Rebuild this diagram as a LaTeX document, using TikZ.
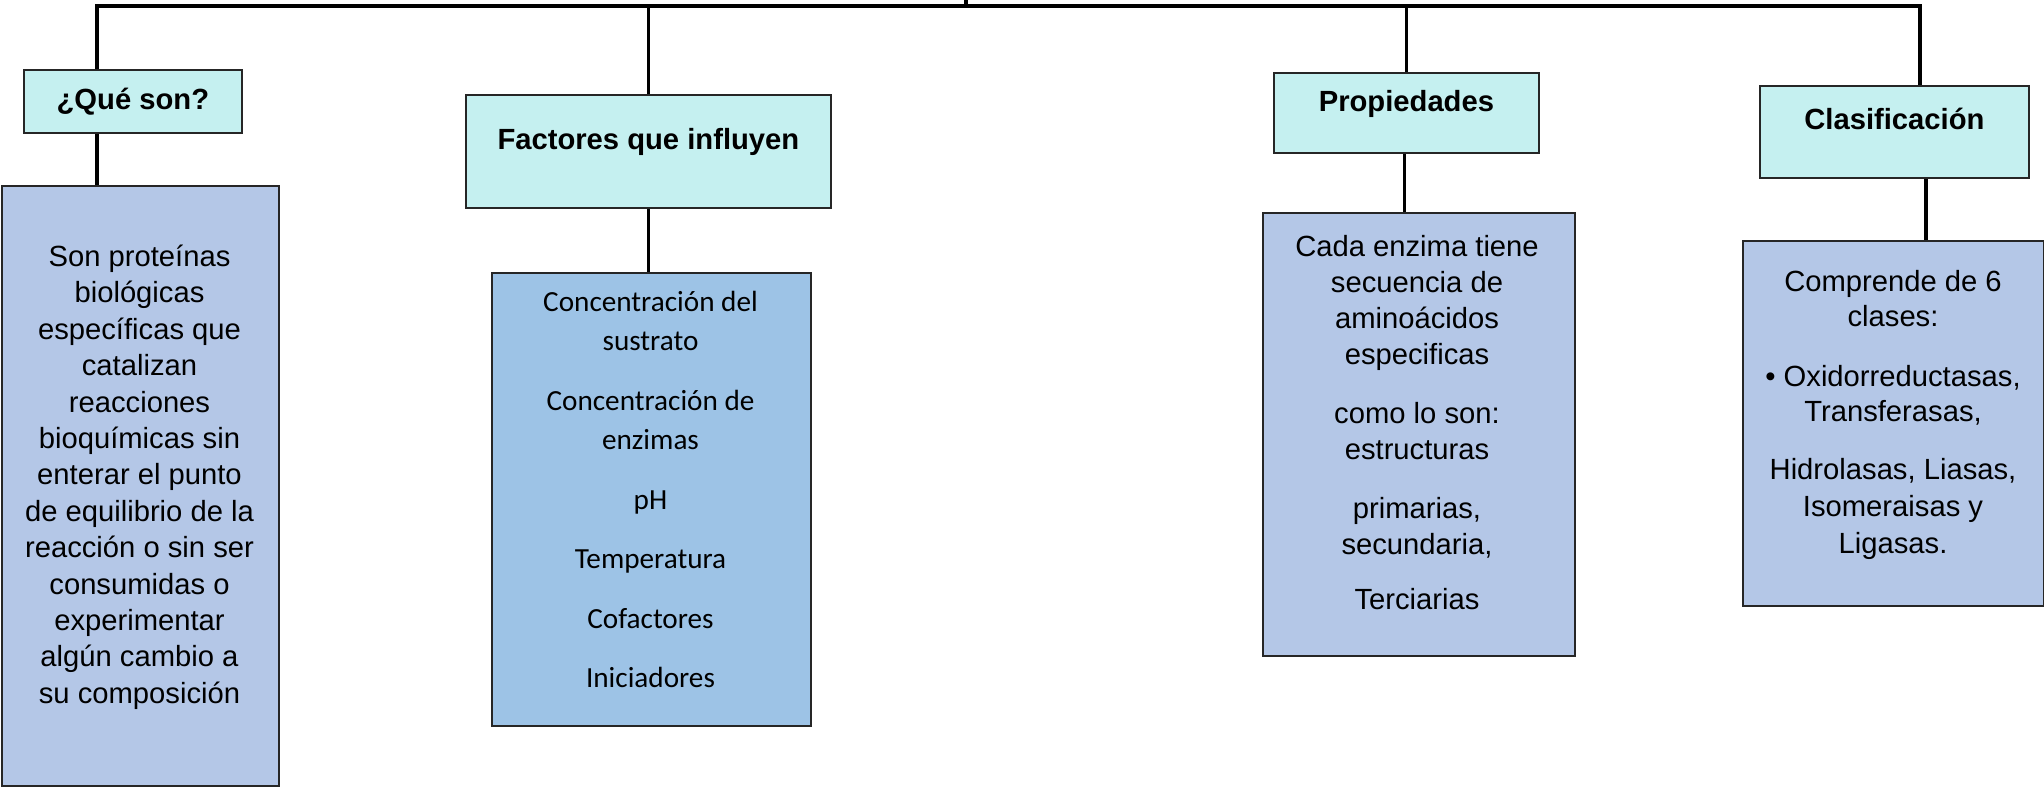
\documentclass[tikz,border=0pt]{standalone}
\usepackage{fontspec}
\setmainfont{Liberation Sans}
\newfontfamily\calibri{Carlito}
\usetikzlibrary{positioning, calc}
\definecolor{headcyan}{RGB}{197,240,240}
\definecolor{bodyblue}{RGB}{180,199,231}
\definecolor{factblue}{RGB}{157,195,230}

\begin{document}
\begin{tikzpicture}[
    x=0.5pt, y=-0.5pt,
    head/.style={draw=black!85, line width=0.9pt, fill=headcyan, inner sep=0pt, anchor=north west},
    body/.style={draw=black!85, line width=0.9pt, fill=bodyblue, inner sep=0pt, anchor=north west},
    link/.style={line width=1.8pt, black},
    headtxt/.style={font=\fontsize{14.6}{17}\selectfont\bfseries, anchor=base, inner sep=0pt},
    txt/.style={font=\fontsize{14.6}{17}\selectfont, anchor=base, inner sep=0pt},
    ftxt/.style={txt, font=\calibri\fontsize{14.6}{17}\selectfont}
]
\useasboundingbox (0,0) rectangle (2044,788);

% Headings
\node[head, minimum width=109pt, minimum height=31.5pt] (que) at (23,69) {};
\node[headtxt] (quelbl) at (que.center |- 0,109) {¿Qué son?};
\node[head, minimum width=182.5pt, minimum height=56.5pt] (fact) at (465,94) {};
\node[headtxt] (factlbl) at (fact.center |- 0,149) {Factores que influyen};
\node[head, minimum width=132.5pt, minimum height=40pt] (prop) at (1273,72) {};
\node[headtxt] (proplbl) at (prop.center |- 0,111) {Propiedades};
\node[head, minimum width=134.5pt, minimum height=46pt] (clas) at (1759,85) {};
\node[headtxt] (claslbl) at (clas.center |- 0,129) {Clasificación};

% Body boxes
\node[body, minimum width=138.5pt, minimum height=300pt] (quebody) at (1,185) {};
\node[body, fill=factblue, minimum width=159.5pt, minimum height=226.5pt] (factbody) at (491,272) {};
\node[body, minimum width=156pt, minimum height=221.5pt] (propbody) at (1262,212) {};
\node[body, minimum width=150.5pt, minimum height=182.5pt] (clasbody) at (1742,240) {};

% Top bar and connectors
\coordinate (barL) at (97,6);
\coordinate (barR) at (1920,6);
\coordinate (root) at (966,0);
\draw[link] (barL |- que.north) -- (barL) -- (barR) -- (barR |- clas.north);
\draw[link] (root) -- (root |- barL);
\draw[link] (fact.north) -- (fact.north |- barL);
\draw[link] (prop.north) -- (prop.north |- barL);
\draw[link] (barL |- que.south) -- (barL |- quebody.north);
\draw[link] (fact.south) -- (fact.south |- factbody.north);
\draw[link] ([xshift=-1pt]prop.south) -- ([xshift=-1pt]prop.south |- propbody.north);
\draw[link] ([xshift=15.75pt]clas.south) -- ([xshift=15.75pt]clas.south |- clasbody.north);

% Texts of the bodies
\foreach \t [count=\i from 0] in {Son proteínas, biológicas, específicas que, catalizan, reacciones, bioquímicas sin, enterar el punto, de equilibrio de la, reacción o sin ser, consumidas o, experimentar, algún cambio a, su composición}
    \node[txt] (que-\i) at (139.5,{266.5+\i*36.4}) {\t};

\foreach \y/\t [count=\i] in {311/Concentración del, 350/sustrato, 410/Concentración de, 449/enzimas, 509/pH, 568/Temperatura, 628/Cofactores, 687/Iniciadores}
    \node[ftxt] (fact-\i) at (650.5,\y) {\t};

\foreach \y/\t [count=\i] in {256/Cada enzima tiene, 292/secuencia de, 328/aminoácidos, 364.5/especificas, 423/como lo son:, 459/estructuras, 518/{primarias,}, 554.5/{secundaria,}, 609.5/Terciarias}
    \node[txt] (prop-\i) at (1417,\y) {\t};

\foreach \y/\t [count=\i] in {291/Comprende de 6, 326/clases:, 386/{• Oxidorreductasas,}, 421/{Transferasas,}, 479.5/{Hidrolasas, Liasas,}, 516/Isomeraisas y, 553/Ligasas.}
    \node[txt] (clas-\i) at (1893,\y) {\t};

\end{tikzpicture}
\end{document}
